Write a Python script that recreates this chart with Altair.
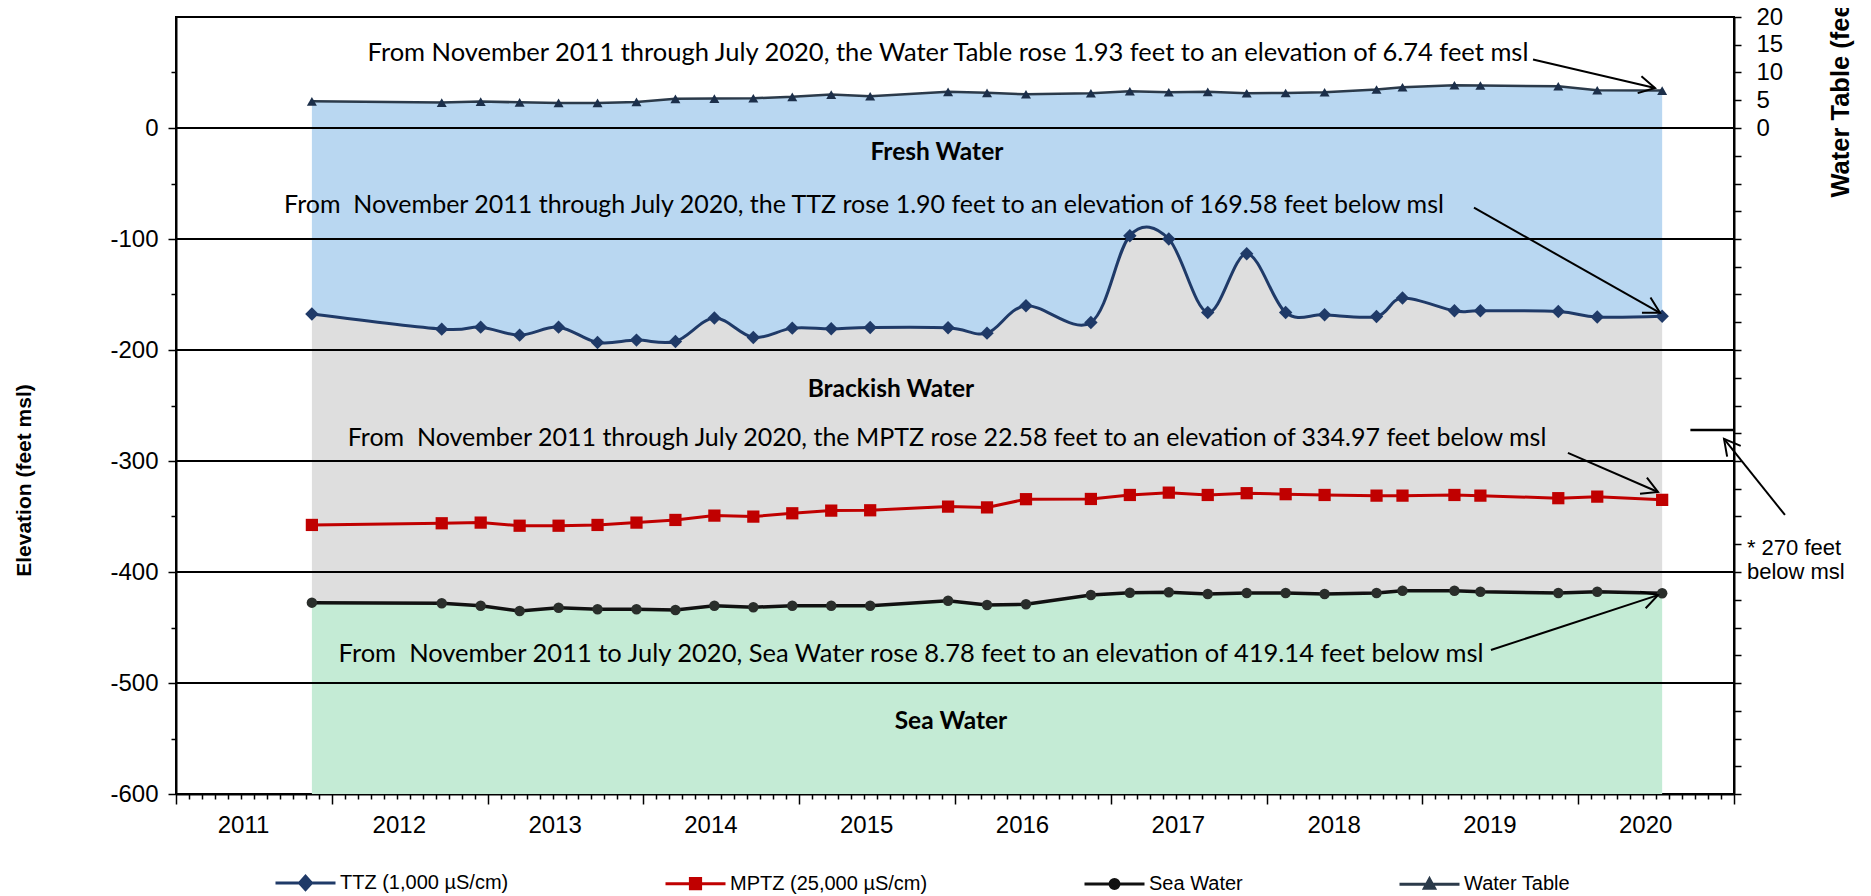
import altair as alt
import pandas as pd

# ---------------- data ----------------
dates = ["2011-11-15", "2012-09-15", "2012-12-15", "2013-03-15", "2013-06-15",
         "2013-09-15", "2013-12-15", "2014-03-15", "2014-06-15", "2014-09-15",
         "2014-12-15", "2015-03-15", "2015-06-15", "2015-12-15", "2016-03-15",
         "2016-06-15", "2016-11-15", "2017-02-15", "2017-05-15", "2017-08-15",
         "2017-11-15", "2018-02-15", "2018-05-15", "2018-09-15", "2018-11-15",
         "2019-03-15", "2019-05-15", "2019-11-15", "2020-02-15", "2020-07-15"]

ttz = [-167.6, -181.2, -179.4, -186.6, -179.4, -193.2, -191.1, -192.3, -171.2, -188.7,
       -180.3, -180.9, -179.7, -180.0, -184.8, -160.1, -175.2, -97.0, -100.0, -166.2,
       -113.3, -166.2, -168.3, -169.8, -153.2, -164.7, -164.7, -165.3, -170.3, -169.6]

mptz = [-357.6, -356.1, -355.5, -358.3, -358.3, -357.6, -355.5, -353.1, -349.2, -350.1,
        -347.1, -344.7, -344.4, -341.1, -341.8, -334.4, -334.2, -330.6, -328.5, -330.6,
        -329.0, -329.9, -330.6, -331.2, -331.2, -330.6, -331.2, -333.5, -332.1, -335.0]

sea = [-427.6, -428.2, -430.4, -435.2, -432.2, -433.6, -433.6, -434.3, -430.4, -431.8,
       -430.4, -430.4, -430.4, -425.9, -429.8, -429.1, -420.7, -418.7, -418.3, -419.8,
       -418.9, -418.9, -419.8, -418.9, -416.9, -416.9, -417.8, -418.9, -417.8, -419.1]

wt = [4.81, 4.58, 4.76, 4.63, 4.52, 4.52, 4.70, 5.25, 5.30, 5.36,
      5.61, 6.02, 5.72, 6.51, 6.33, 6.08, 6.26, 6.62, 6.44, 6.51,
      6.26, 6.30, 6.44, 6.93, 7.34, 7.70, 7.65, 7.52, 6.80, 6.74]

series_names = ["TTZ (1,000 µS/cm)", "MPTZ (25,000 µS/cm)", "Sea Water", "Water Table"]

gridline_levels = [0, -100, -200, -300, -400, -500]

note_texts = [
    "From November 2011 through July 2020, the Water Table rose 1.93 feet to an elevation of 6.74 feet msl",
    "From\u00a0 November 2011 through July 2020, the TTZ rose 1.90 feet to an elevation of 169.58 feet below msl",
    "From\u00a0 November 2011 through July 2020, the MPTZ rose 22.58 feet to an elevation of 334.97 feet below msl",
    "From\u00a0 November 2011 to July 2020, Sea Water rose 8.78 feet to an elevation of 419.14 feet below msl",
]
note_x = [2015.955, 2015.416, 2015.949, 2015.718]
note_y = [68, -69.1, -279.1, -474.0]
note_size = [25.5, 25, 25, 25.5]

zone_texts = ["Fresh Water", "Brackish Water", "Sea Water"]
zone_x = [2015.884, 2015.589, 2015.974]
zone_y = [-22.2, -235.8, -535.2]

arrow_x0 = [2019.710, 2019.331, 2019.934, 2019.440, 2021.327]
arrow_y0 = [61.7, -71.8, -292.7, -470.3, -348.6]
arrow_x1 = [2020.493, 2020.525, 2020.512, 2020.512, 2020.936]
arrow_y1 = [36.0, -166.5, -327.9, -420.8, -280.1]
arrow_angle = [12.5, 29.4, 23.4, 341.8, 231.3]

marker_270_x = [2020.72]
marker_270_x2 = [2021.0]
marker_270_y = [-272]
side_note = ["* 270 feet", "below msl"]

# ---------------- tables ----------------
def dec_year(s):
    y, m, d = map(int, s.split("-"))
    return y + (m - 1 + (d - 1) / 30.0) / 12.0

df = pd.DataFrame({"t": [dec_year(s) for s in dates], "ttz": ttz, "mptz": mptz,
                   "sea": sea, "wt": wt})
df["wt5"] = df["wt"] * 5.0  # water table expressed on the left scale (right = left / 5)

cols = ["ttz", "mptz", "sea", "wt5"]
long = df.melt(id_vars="t", value_vars=cols, var_name="key", value_name="val")
long["series"] = long["key"].map(dict(zip(cols, series_names)))

notes = pd.DataFrame({"x": note_x, "y": note_y, "text": note_texts, "fs": note_size})
zones = pd.DataFrame({"x": zone_x, "y": zone_y, "text": zone_texts})
arrows = pd.DataFrame({"x0": arrow_x0, "y0": arrow_y0, "x1": arrow_x1, "y1": arrow_y1,
                       "ang": arrow_angle})
grid = pd.DataFrame({"y": gridline_levels})
m270 = pd.DataFrame({"x": marker_270_x, "x2": marker_270_x2, "y": marker_270_y})
side = pd.DataFrame({"x": [2021.083], "y": [-378.4], "text": [side_note]})

# ---------------- scales / axes ----------------
XS = alt.Scale(domain=[2011, 2021], nice=False, zero=False)
YL = alt.Scale(domain=[-600, 100], nice=False, zero=False)
YR = alt.Scale(domain=[-120, 20], nice=False, zero=False)

is_int = "abs(datum.value - round(datum.value)) < 0.001"
x_axis = alt.Axis(
    values=[round(2011 + m / 12.0, 6) for m in range(121)],
    tickSize={"condition": {"test": is_int, "value": 10}, "value": 5},
    labelExpr=f"({is_int}) && datum.value < 2020.5 ? '' + round(datum.value) : ''",
    labelOffset=67, labelFont="Liberation Sans", labelFontSize=24, labelColor="black",
    labelPadding=9, labelOverlap=False, labelFlush=False, labelBound=False,
    grid=False, domainColor="black", domainWidth=2, tickColor="black", tickWidth=1.5,
    title=None)

yl_axis = alt.Axis(
    values=list(range(-600, 51, 50)),
    tickSize={"condition": {"test": "datum.value % 100 == 0", "value": 8}, "value": 5},
    labelExpr="datum.value % 100 == 0 ? '' + datum.value : ''",
    labelFont="Liberation Sans", labelFontSize=24, labelColor="black", labelPadding=10,
    grid=False, domainColor="black", domainWidth=2, tickColor="black", tickWidth=1.5,
    title="Elevation (feet msl)", titleFont="Liberation Sans", titleFontSize=21,
    titleFontWeight="bold", titleColor="black", titleAngle=270, titleX=-152, titleY=463,
    titleAlign="center", titleBaseline="middle")

yr_axis = alt.Axis(
    orient="right", values=list(range(-120, 21, 5)),
    labelExpr="datum.value >= 0 ? '' + datum.value : ''",
    tickSize=7, labelFont="Liberation Sans", labelFontSize=24, labelColor="black",
    labelPadding=15, grid=False, domainColor="black", domainWidth=2, tickColor="black",
    tickWidth=1.5, title="Water Table (feet msl)", titleFont="Liberation Sans",
    titleFontSize=25.5, titleFontWeight="bold", titleColor="black", titleAngle=270,
    titleX=106, titleY=180, titleAlign="left", titleBaseline="middle")


def X(f):
    # the same x axis on every layer so that the shared axis merges cleanly
    return alt.X(f, type="quantitative", scale=XS, axis=x_axis)


def Y(f, axis=None):
    return alt.Y(f, type="quantitative", scale=YL, axis=axis)


base = alt.Chart(df)

blue = base.mark_area(color="#b9d7f1", interpolate="cardinal", tension=0).encode(
    x=X("t"), y=Y("wt5", yl_axis), y2="ttz")
gray = base.mark_area(color="#dedede", interpolate="cardinal", tension=0).encode(
    x=X("t"), y=Y("ttz"), y2="sea")
green = base.mark_area(color="#c4ebd5").encode(
    x=X("t"), y=Y("sea"), y2=alt.datum(-600))

grid_rules = alt.Chart(grid).mark_rule(color="black", strokeWidth=2).encode(y=Y("y"))
rule270 = alt.Chart(m270).mark_rule(color="black", strokeWidth=2.5).encode(
    x=X("x"), x2="x2", y=Y("y"))

ttz_line = base.mark_line(color="#1f3a68", strokeWidth=3, interpolate="cardinal",
                          tension=0).encode(x=X("t"), y=Y("ttz"))
ttz_pts = base.mark_point(shape="diamond", filled=True, color="#1f3a68", size=180,
                          opacity=1).encode(x=X("t"), y=Y("ttz"))
mptz_line = base.mark_line(color="#c00000", strokeWidth=3).encode(x=X("t"), y=Y("mptz"))
mptz_pts = base.mark_point(shape="square", filled=True, color="#c00000", size=150,
                           opacity=1).encode(x=X("t"), y=Y("mptz"))
sea_line = base.mark_line(color="#111111", strokeWidth=3.5).encode(x=X("t"), y=Y("sea"))
sea_pts = base.mark_point(shape="circle", filled=True, color="#2a2e2b", size=110,
                          opacity=1).encode(x=X("t"), y=Y("sea"))

note_layer = alt.Chart(notes).mark_text(font="Lato", color="black",
                                        align="center", baseline="middle").encode(
    x=X("x"), y=Y("y"), text="text:N", size=alt.Size("fs:Q", scale=None, legend=None))
zone_layer = alt.Chart(zones).mark_text(font="Lato", fontSize=24.5, fontWeight="bold",
                                        color="black", align="center",
                                        baseline="middle").encode(
    x=X("x"), y=Y("y"), text="text:N")
side_layer = alt.Chart(side).mark_text(font="Liberation Sans", fontSize=22, color="black",
                                       align="left", baseline="middle", lineHeight=24).encode(
    x=X("x"), y=Y("y"), text="text")

arrow_lines = alt.Chart(arrows).mark_rule(color="black", strokeWidth=2).encode(
    x=X("x0"), x2="x1", y=Y("y0"), y2="y1")
arrow_heads = alt.Chart(arrows).mark_point(
    shape="M-1,-0.55L0,0L-1,0.55", filled=False, color="black", strokeWidth=2,
    size=1000, opacity=1).encode(
    x=X("x1"), y=Y("y1"), angle=alt.Angle("ang:Q", scale=None))

sym_paths = [
    "M-1,0L1,0M0,-0.22L0.2,0L0,0.22L-0.2,0Z",
    "M-1,0L1,0M-0.17,-0.17L0.17,-0.17L0.17,0.17L-0.17,0.17Z",
    "M-1,0L1,0M0.15,0A0.15,0.15 0 1,1 -0.15,0A0.15,0.15 0 1,1 0.15,0Z",
    "M-1,0L1,0M0,-0.18L0.17,0.13L-0.17,0.13Z",
]
sym_colors = ["#1f3a68", "#c00000", "#111111", "#2b3a4a"]
leg = alt.Legend(title=None, orient="none", legendX=98, legendY=834,
                 direction="horizontal", columns=4, columnPadding=150,
                 symbolSize=3600, symbolStrokeWidth=3, symbolOpacity=1,
                 labelFont="Liberation Sans", labelFontSize=20, labelColor="black",
                 labelOffset=3, labelLimit=400)
legend_layer = alt.Chart(long).mark_point(filled=True, opacity=0).encode(
    x=X("t"), y=Y("val"),
    color=alt.Color("series:N", scale=alt.Scale(domain=series_names, range=sym_colors),
                    legend=leg),
    stroke=alt.Stroke("series:N", scale=alt.Scale(domain=series_names, range=sym_colors),
                      legend=leg),
    shape=alt.Shape("series:N", scale=alt.Scale(domain=series_names, range=sym_paths),
                    legend=leg))

wt_line = base.mark_line(color="#2b3a4a", strokeWidth=2.5).encode(
    x=X("t"), y=alt.Y("wt", type="quantitative", scale=YR, axis=yr_axis))
wt_pts = base.mark_point(shape="triangle-up", filled=True, color="#1c2f4a", size=100,
                         opacity=1).encode(
    x=X("t"), y=alt.Y("wt", type="quantitative", scale=YR, axis=None))

chart = alt.layer(
    blue, gray, green, grid_rules, rule270, ttz_line, mptz_line, sea_line,
    ttz_pts, mptz_pts, sea_pts, wt_line, wt_pts, note_layer, zone_layer, side_layer,
    arrow_lines, arrow_heads, legend_layer
).resolve_scale(y="independent").properties(
    width=1558, height=777,
    autosize=alt.AutoSizeParams(type="none"),
    padding={"left": 168, "top": 9, "right": 129, "bottom": 102},
).configure_view(stroke="black", strokeWidth=2)

chart.save("out.html", embed_options={"renderer": "svg", "actions": False})
